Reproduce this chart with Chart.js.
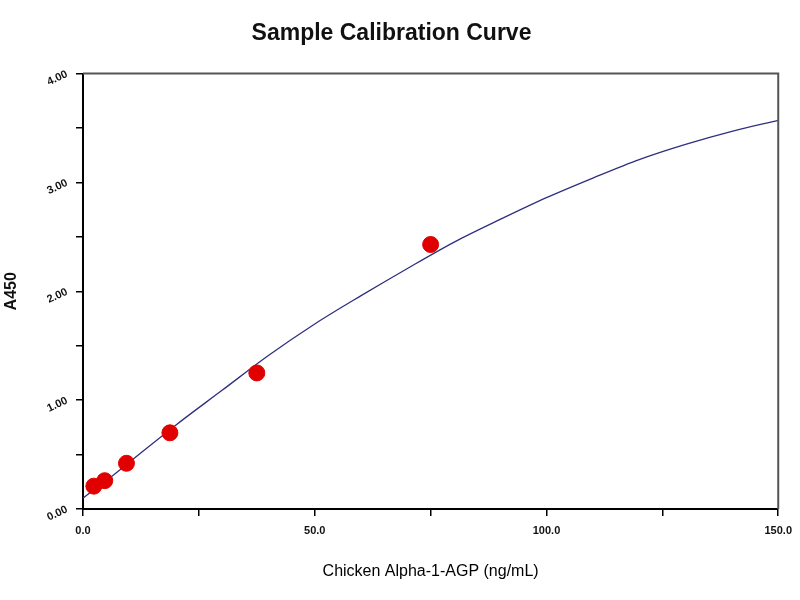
<!DOCTYPE html>
<html>
<head>
<meta charset="utf-8">
<title>Sample Calibration Curve</title>
<script src="https://cdn.jsdelivr.net/npm/chart.js@4.4.1/dist/chart.umd.min.js"></script>
<style>
  html, body { margin: 0; padding: 0; background: #fff; }
  #wrap { width: 800px; height: 600px; }
</style>
</head>
<body>
<div id="wrap"><canvas id="myChart" width="800" height="600"></canvas></div>
<script>
// standards (ng/mL) and measured A450
const concentrations = [2.34, 4.69, 9.38, 18.75, 37.5, 75];
const absorbance = [0.21, 0.26, 0.42, 0.70, 1.25, 2.43];

// fitted curve
const curveX = [0, 5, 10, 20, 30, 40, 50, 60, 70, 80, 90, 100, 110, 120, 130, 140, 150];
const curveY = [0.10, 0.26, 0.43, 0.77, 1.09, 1.41, 1.70, 1.96, 2.21, 2.45, 2.66, 2.86, 3.04, 3.21, 3.35, 3.47, 3.57];

const xTicks = [0, 50, 100, 150];
const yTicks = [0, 1, 2, 3, 4];

const fontFamily = "'Liberation Sans', Arial, sans-serif";
const tickFont = { family: fontFamily, size: 11, weight: 'bold' };

// top and right edges of the plot frame
const frame = {
    id: 'frame',
    afterDraw(chart) {
        const { ctx, chartArea } = chart;
        ctx.save();
        ctx.strokeStyle = '#555';
        ctx.lineWidth = 2;
        ctx.beginPath();
        ctx.moveTo(chartArea.left, chartArea.top);
        ctx.lineTo(chartArea.right, chartArea.top);
        ctx.lineTo(chartArea.right, chartArea.bottom);
        ctx.stroke();
        ctx.restore();
    }
};

const ctx = document.getElementById('myChart').getContext('2d');
const chart = new Chart(ctx, {
    type: 'scatter',
    data: {
        datasets: [{
            label: 'Standards',
            data: concentrations.map((x, i) => ({ x: x, y: absorbance[i] })),
            backgroundColor: '#e00000',
            borderColor: '#e00000',
            pointRadius: 8,
            pointHoverRadius: 8,
            order: 0
        }, {
            label: 'Fit',
            data: curveX.map((x, i) => ({ x: x, y: curveY[i] })),
            showLine: true,
            borderColor: '#2f2f80',
            borderWidth: 1.3,
            pointRadius: 0,
            cubicInterpolationMode: 'monotone',
            order: 1
        }]
    },
    options: {
        responsive: false,
        animation: false,
        layout: { padding: { left: 0, right: 17, top: 0, bottom: 0 } },
        plugins: {
            legend: { display: false },
            tooltip: { enabled: false },
            title: {
                display: true,
                text: 'Sample Calibration Curve',
                color: '#111',
                font: { family: fontFamily, size: 23, weight: 'bold' },
                padding: { top: 20, bottom: 26 }
            }
        },
        scales: {
            x: {
                type: 'linear',
                min: 0,
                max: 150,
                afterFit: s => { s.height = 91; },
                border: { color: '#000', width: 2 },
                grid: { drawOnChartArea: false, drawTicks: true, tickLength: 7, color: '#000', lineWidth: 1.5 },
                ticks: {
                    stepSize: 25,
                    padding: 8,
                    color: '#111',
                    font: tickFont,
                    maxRotation: 0,
                    callback: v => xTicks.includes(v) ? v.toFixed(1) : ''
                },
                title: {
                    display: true,
                    text: 'Chicken Alpha-1-AGP (ng/mL)',
                    color: '#000',
                    font: { family: fontFamily, size: 16 },
                    padding: { top: 0, bottom: 19 }
                }
            },
            y: {
                min: 0,
                max: 4,
                afterFit: s => { s.width = 83; },
                border: { color: '#000', width: 2 },
                grid: { drawOnChartArea: false, drawTicks: true, tickLength: 7, color: '#000', lineWidth: 1.5 },
                ticks: {
                    stepSize: 0.5,
                    padding: 9,
                    color: '#111',
                    font: tickFont,
                    minRotation: 25,
                    maxRotation: 25,
                    callback: v => yTicks.includes(v) ? v.toFixed(2) : ''
                },
                title: {
                    display: true,
                    text: 'A450',
                    color: '#111',
                    font: { family: fontFamily, size: 16, weight: 'bold' },
                    padding: { top: 2, bottom: 0 }
                }
            }
        }
    },
    plugins: [frame]
});
</script>
</body>
</html>
